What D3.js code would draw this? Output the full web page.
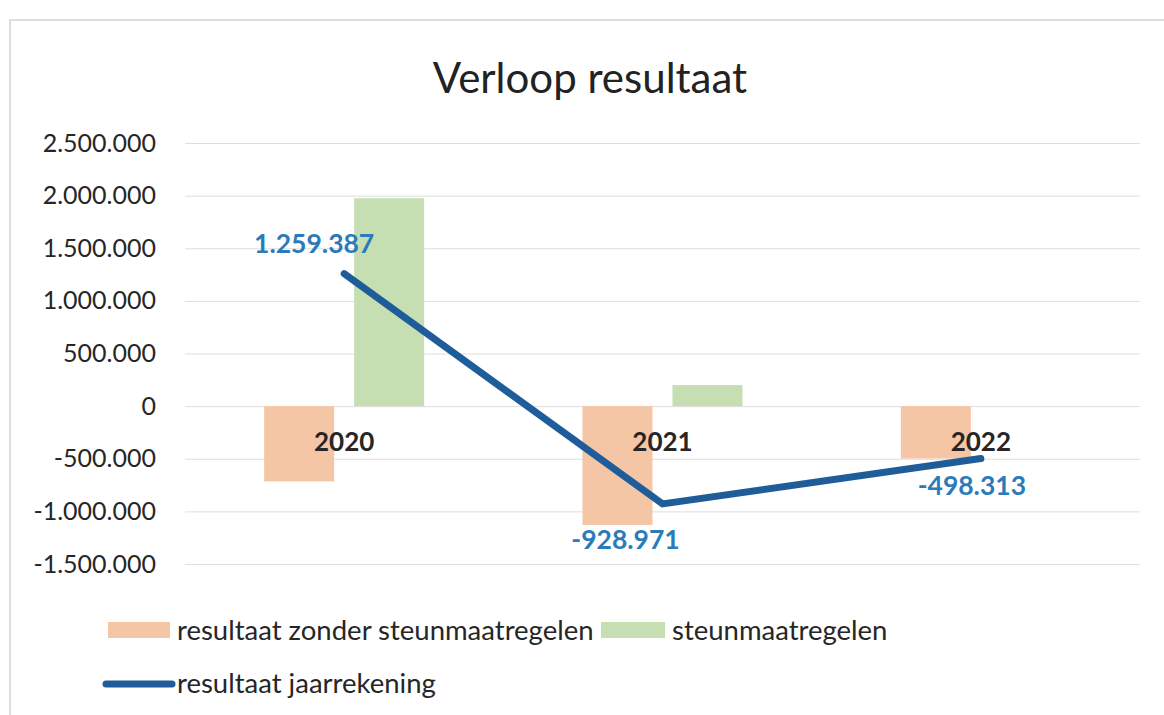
<!DOCTYPE html>
<html>
<head>
<meta charset="utf-8">
<script src="https://cdn.jsdelivr.net/npm/d3@7"></script>
<style>
  body { margin: 0; background: #fff; }
  svg { display: block; font-family: Lato, 'Open Sans', sans-serif; }
</style>
</head>
<body>
<div id="chart"></div>
<script>
const years = ['2020', '2021', '2022'];
const zonderSteun = [-715613, -1128971, -498313];
const steun = [1975000, 200000, 0];
const jaarrekening = [1259387, -928971, -498313];
const yTicks = [-1500000, -1000000, -500000, 0, 500000, 1000000, 1500000, 2000000, 2500000];
const seriesNames = ['resultaat zonder steunmaatregelen', 'steunmaatregelen', 'resultaat jaarrekening'];

const width = 1164, height = 715;
const colors = {orange: '#f5c6a6', green: '#c5dfb2', line: '#1f5d9a', label: '#2b7bbb'};

const nl = d3.formatLocale({decimal: ',', thousands: '.', grouping: [3], currency: ['€', ''], minus: '-'});
const fmt = nl.format(',d');

let svg = d3.select('#chart').append('svg')
    .attr('width', width)
    .attr('height', height);

// chart frame (only top and left edge visible in the scan)
svg.append('path')
    .attr('d', `M10,${height} L10,20 L${width},20`)
    .attr('fill', 'none')
    .attr('stroke', '#d4d4d4')
    .attr('stroke-width', 1.5);

svg.append('text')
    .attr('x', 590)
    .attr('y', 93)
    .attr('text-anchor', 'middle')
    .attr('font-size', 42)
    .attr('fill', '#222')
    .text('Verloop resultaat');

let x = d3.scaleBand()
    .domain(years)
    .range([185, 1140]);

let xInner = d3.scaleBand()
    .domain(['zonder', 'steun'])
    .range([-80, 80])
    .paddingInner(0.222);

let y = d3.scaleLinear()
    .domain([-1500000, 2500000])
    .range([564, 143]);

let cx = d => x(d) + x.bandwidth() / 2;

// gridlines + tick labels
let yAxis = svg.append('g')
    .attr('transform', 'translate(185,0)')
    .call(d3.axisLeft(y)
        .tickValues(yTicks)
        .tickSize(-955)
        .tickPadding(29)
        .tickFormat(fmt));
yAxis.select('.domain').remove();
yAxis.selectAll('.tick line').attr('stroke', '#dedede');
yAxis.selectAll('.tick text')
    .attr('font-size', 25)
    .attr('fill', '#262626')
    .style('font-family', 'Lato, sans-serif');

// bars
let rows = years.map((yr, i) => ({year: yr, zonder: zonderSteun[i], steun: steun[i]}));

let barG = svg.append('g');
[['zonder', colors.orange], ['steun', colors.green]].forEach(([key, col]) => {
    barG.selectAll('.bar-' + key)
        .data(rows.filter(d => d[key] !== 0))
        .join('rect')
        .attr('class', 'bar-' + key)
        .attr('x', d => cx(d.year) + xInner(key))
        .attr('width', xInner.bandwidth())
        .attr('y', d => y(Math.max(0, d[key])))
        .attr('height', d => Math.abs(y(d[key]) - y(0)))
        .attr('fill', col);
});

// category labels next to zero axis
svg.append('g').selectAll('text')
    .data(years)
    .join('text')
    .attr('x', d => cx(d))
    .attr('y', y(0) + 45)
    .attr('text-anchor', 'middle')
    .attr('font-size', 26)
    .attr('font-weight', 'bold')
    .attr('fill', '#262626')
    .text(d => d);

// line
let pts = years.map((yr, i) => [cx(yr), y(jaarrekening[i])]);
svg.append('path')
    .datum(pts)
    .attr('d', d3.line())
    .attr('fill', 'none')
    .attr('stroke', colors.line)
    .attr('stroke-width', 7)
    .attr('stroke-linecap', 'round')
    .attr('stroke-linejoin', 'miter');

// data labels
const labelOffsets = [[-30, -21], [-37, 45], [-9, 36]];
svg.append('g').selectAll('text')
    .data(pts)
    .join('text')
    .attr('x', (d, i) => d[0] + labelOffsets[i][0])
    .attr('y', (d, i) => d[1] + labelOffsets[i][1])
    .attr('text-anchor', 'middle')
    .attr('font-size', 26.5)
    .attr('font-weight', 'bold')
    .attr('fill', colors.label)
    .text((d, i) => fmt(jaarrekening[i]));

// legend
let legend = svg.append('g').attr('font-size', 27.5).attr('fill', '#262626');
legend.append('rect').attr('x', 108).attr('y', 622).attr('width', 62).attr('height', 16).attr('fill', colors.orange);
legend.append('text').attr('x', 177).attr('y', 640).text(seriesNames[0]);
legend.append('rect').attr('x', 601).attr('y', 622).attr('width', 64).attr('height', 16).attr('fill', colors.green);
legend.append('text').attr('x', 672).attr('y', 640).text(seriesNames[1]);
legend.append('line').attr('x1', 106).attr('x2', 172).attr('y1', 684).attr('y2', 684)
    .attr('stroke', colors.line).attr('stroke-width', 7).attr('stroke-linecap', 'round');
legend.append('text').attr('x', 177).attr('y', 693).text(seriesNames[2]);
</script>
</body>
</html>
